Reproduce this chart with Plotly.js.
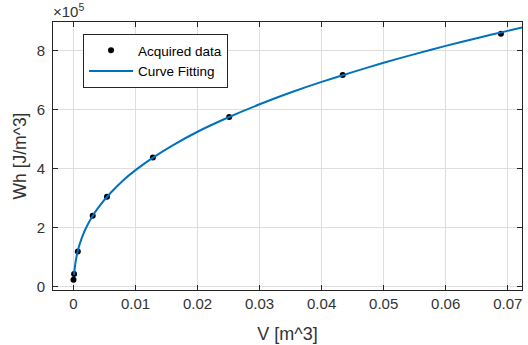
<!DOCTYPE html>
<html>
<head>
<meta charset="utf-8">
<script src="https://cdn.plot.ly/plotly-3.0.1.min.js"></script>
<style>
  html, body { margin: 0; padding: 0; background: #fff; }
  #chart { width: 528px; height: 345px; }
</style>
</head>
<body>
<div id="chart"></div>
<script>
// Acquired data (V in m^3, Wh in J/m^3)
const dataV  = [0, 0.0001, 0.0007, 0.0031, 0.0054, 0.0128, 0.0251, 0.0434, 0.0689];
const dataWh = [22000, 42000, 118000, 239000, 304000, 437000, 574000, 716000, 856000];

// Curve fitting line
const fitV  = [0.0001, 0.0002, 0.0004, 0.0007, 0.001, 0.0015, 0.002, 0.003, 0.004, 0.006,
               0.008, 0.010, 0.013, 0.016, 0.020, 0.025, 0.030, 0.035, 0.040, 0.045,
               0.050, 0.055, 0.060, 0.065, 0.070, 0.0725];
const fitWh = [39000, 61000, 90000, 120000, 143000, 173000, 197000, 236000, 267000, 317000,
               359000, 394000, 439000, 478000, 524000, 573000, 617000, 657000, 693000, 726000,
               758000, 787000, 815000, 841000, 866000, 878000];

const yTickVals = [0, 200000, 400000, 600000, 800000];
const yTickText = ['0', '2', '4', '6', '8'];

const axisColor = '#333333';
const gridColor = '#dedede';
const fontFam = 'Liberation Sans, Arial, Helvetica, sans-serif';

const traces = [
  {
    x: dataV, y: dataWh, type: 'scatter', mode: 'markers', name: 'Acquired data',
    marker: { color: '#000000', size: 6 }
  },
  {
    x: fitV, y: fitWh, type: 'scatter', mode: 'lines', name: 'Curve Fitting',
    line: { color: '#0072BD', width: 2, shape: 'spline', smoothing: 0.6 }
  }
];

const layout = {
  width: 528, height: 345,
  margin: { l: 53, r: 6, t: 22, b: 55 },
  paper_bgcolor: '#ffffff', plot_bgcolor: '#ffffff',
  font: { family: fontFam, color: axisColor, size: 14 },
  showlegend: true,
  legend: {
    x: 0.064, y: 0.955, xanchor: 'left', yanchor: 'top',
    bgcolor: '#ffffff', bordercolor: '#262626', borderwidth: 1,
    font: { size: 13.5, color: '#000000', family: fontFam },
    itemwidth: 44,
    tracegroupgap: 0
  },
  xaxis: {
    range: [-0.0033, 0.0723], tick0: 0, dtick: 0.01,
    showgrid: true, gridcolor: gridColor, gridwidth: 1, zeroline: false,
    showline: true, linecolor: '#262626', linewidth: 1, mirror: 'ticks',
    ticks: 'inside', ticklen: 5, tickcolor: '#262626',
    tickfont: { size: 15, color: axisColor },
    title: { text: 'V [m^3]', font: { size: 18, color: axisColor }, standoff: 16 }
  },
  yaxis: {
    range: [-12500, 896000], tickvals: yTickVals, ticktext: yTickText,
    showgrid: true, gridcolor: gridColor, gridwidth: 1, zeroline: false,
    showline: true, linecolor: '#262626', linewidth: 1, mirror: 'ticks',
    ticks: 'inside', ticklen: 5, tickcolor: '#262626',
    tickfont: { size: 15, color: axisColor },
    ticklabelstandoff: 4,
    title: { text: 'Wh [J/m^3]', font: { size: 17.5, color: axisColor }, standoff: 5 }
  },
  annotations: [
    {
      xref: 'paper', yref: 'paper', x: 0, y: 1, xanchor: 'left', yanchor: 'bottom',
      text: '×10<sup>5</sup>', showarrow: false, yshift: 0, xshift: -2,
      font: { size: 15, color: axisColor, family: fontFam }
    }
  ]
};

Plotly.newPlot('chart', traces, layout, { displayModeBar: false, staticPlot: true });
</script>
</body>
</html>
